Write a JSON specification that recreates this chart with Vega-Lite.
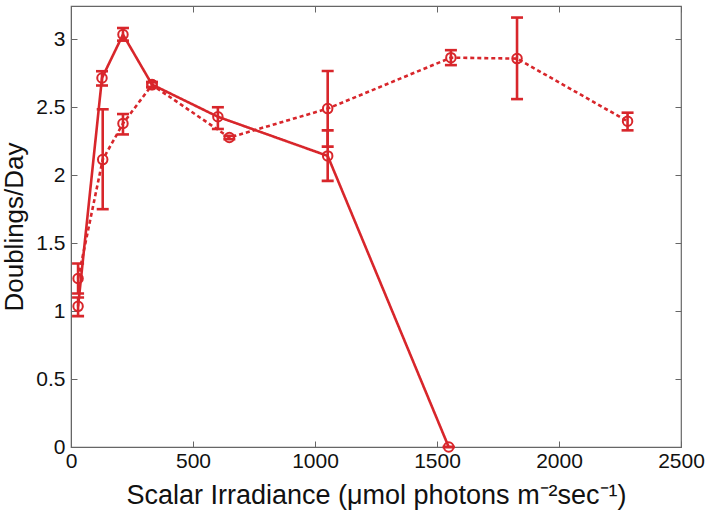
{
  "$schema": "https://vega.github.io/schema/vega-lite/v6.json",
  "autosize": "none",
  "width": 610,
  "height": 441,
  "padding": {"left": 71, "top": 6, "right": 29, "bottom": 79},
  "background": "white",
  "config": {
    "view": {"stroke": "#666666", "strokeWidth": 1.2},
    "font": "Liberation Sans",
    "axis": {"grid": false, "domainColor": "#666666", "tickColor": "#666666", "labelColor": "#111111", "titleColor": "#111111", "labelFont": "Liberation Sans", "titleFont": "Liberation Sans", "titleFontWeight": "normal"}
  },
  "data": {"values": [
    {"series": "solid", "x": 29, "y": 1.035, "lo": 0.963, "hi": 1.1},
    {"series": "solid", "x": 127, "y": 2.715, "lo": 2.66, "hi": 2.765},
    {"series": "solid", "x": 213, "y": 3.035, "lo": 2.99, "hi": 3.083},
    {"series": "solid", "x": 332, "y": 2.667, "lo": 2.648, "hi": 2.685},
    {"series": "solid", "x": 602, "y": 2.43, "lo": 2.34, "hi": 2.5},
    {"series": "solid", "x": 1052, "y": 2.142, "lo": 1.958, "hi": 2.33},
    {"series": "solid", "x": 1548, "y": 0, "lo": 0, "hi": 0},
    {"series": "dotted", "x": 29, "y": 1.24, "lo": 1.13, "hi": 1.35},
    {"series": "dotted", "x": 130, "y": 2.115, "lo": 1.75, "hi": 2.485},
    {"series": "dotted", "x": 213, "y": 2.38, "lo": 2.3, "hi": 2.45},
    {"series": "dotted", "x": 332, "y": 2.665, "lo": 2.648, "hi": 2.685},
    {"series": "dotted", "x": 649, "y": 2.277, "lo": 2.265, "hi": 2.29},
    {"series": "dotted", "x": 1052, "y": 2.49, "lo": 2.21, "hi": 2.767},
    {"series": "dotted", "x": 1557, "y": 2.865, "lo": 2.81, "hi": 2.92},
    {"series": "dotted", "x": 1828, "y": 2.858, "lo": 2.56, "hi": 3.16},
    {"series": "dotted", "x": 2281, "y": 2.397, "lo": 2.33, "hi": 2.46}
  ]},
  "layer": [
    {
      "mark": {"type": "line", "color": "#d8262b", "strokeWidth": 2.6},
      "encoding": {
        "x": {"field": "x", "type": "quantitative", "scale": {"domain": [0, 2500], "nice": false, "zero": false},
          "axis": {"orient": "bottom", "values": [0, 500, 1000, 1500, 2000, 2500], "format": "d", "tickSize": -6, "labelPadding": 9, "labelFontSize": 21, "labelFlush": false, "title": "Scalar Irradiance (μmol photons m⁻²sec⁻¹)", "titleFontSize": 27, "titlePadding": 11}},
        "y": {"field": "y", "type": "quantitative", "scale": {"domain": [0, 3.245], "nice": false, "zero": false},
          "axis": {"orient": "left", "values": [0, 0.5, 1, 1.5, 2, 2.5, 3], "format": ".2~f", "tickSize": -6, "labelPadding": 12, "labelFontSize": 21, "title": "Doublings/Day", "titleFontSize": 26, "titlePadding": 8}},
        "strokeDash": {"field": "series", "type": "nominal", "scale": {"domain": ["solid", "dotted"], "range": [[1, 0], [4, 3]]}, "legend": null},
        "detail": {"field": "series"}
      }
    },
    {
      "mark": {"type": "point", "shape": "circle", "filled": false, "color": "#d8262b", "opacity": 1, "size": 90, "strokeWidth": 2},
      "encoding": {
        "x": {"field": "x", "type": "quantitative", "axis": {"orient": "top", "values": [0, 500, 1000, 1500, 2000, 2500], "labels": false, "tickSize": -6, "title": null, "domain": false}},
        "y": {"field": "y", "type": "quantitative", "axis": {"orient": "right", "values": [0, 0.5, 1, 1.5, 2, 2.5, 3], "labels": false, "tickSize": -6, "title": null, "domain": false}}
      }
    },
    {
      "mark": {"type": "errorbar", "color": "#d8262b", "opacity": 1, "ticks": {"size": 12, "thickness": 2.6, "opacity": 1}, "thickness": 2.6},
      "encoding": {
        "x": {"field": "x", "type": "quantitative", "axis": null},
        "y": {"field": "lo", "type": "quantitative", "axis": null},
        "y2": {"field": "hi"}
      }
    }
  ],
  "resolve": {"axis": {"x": "independent", "y": "independent"}}
}
